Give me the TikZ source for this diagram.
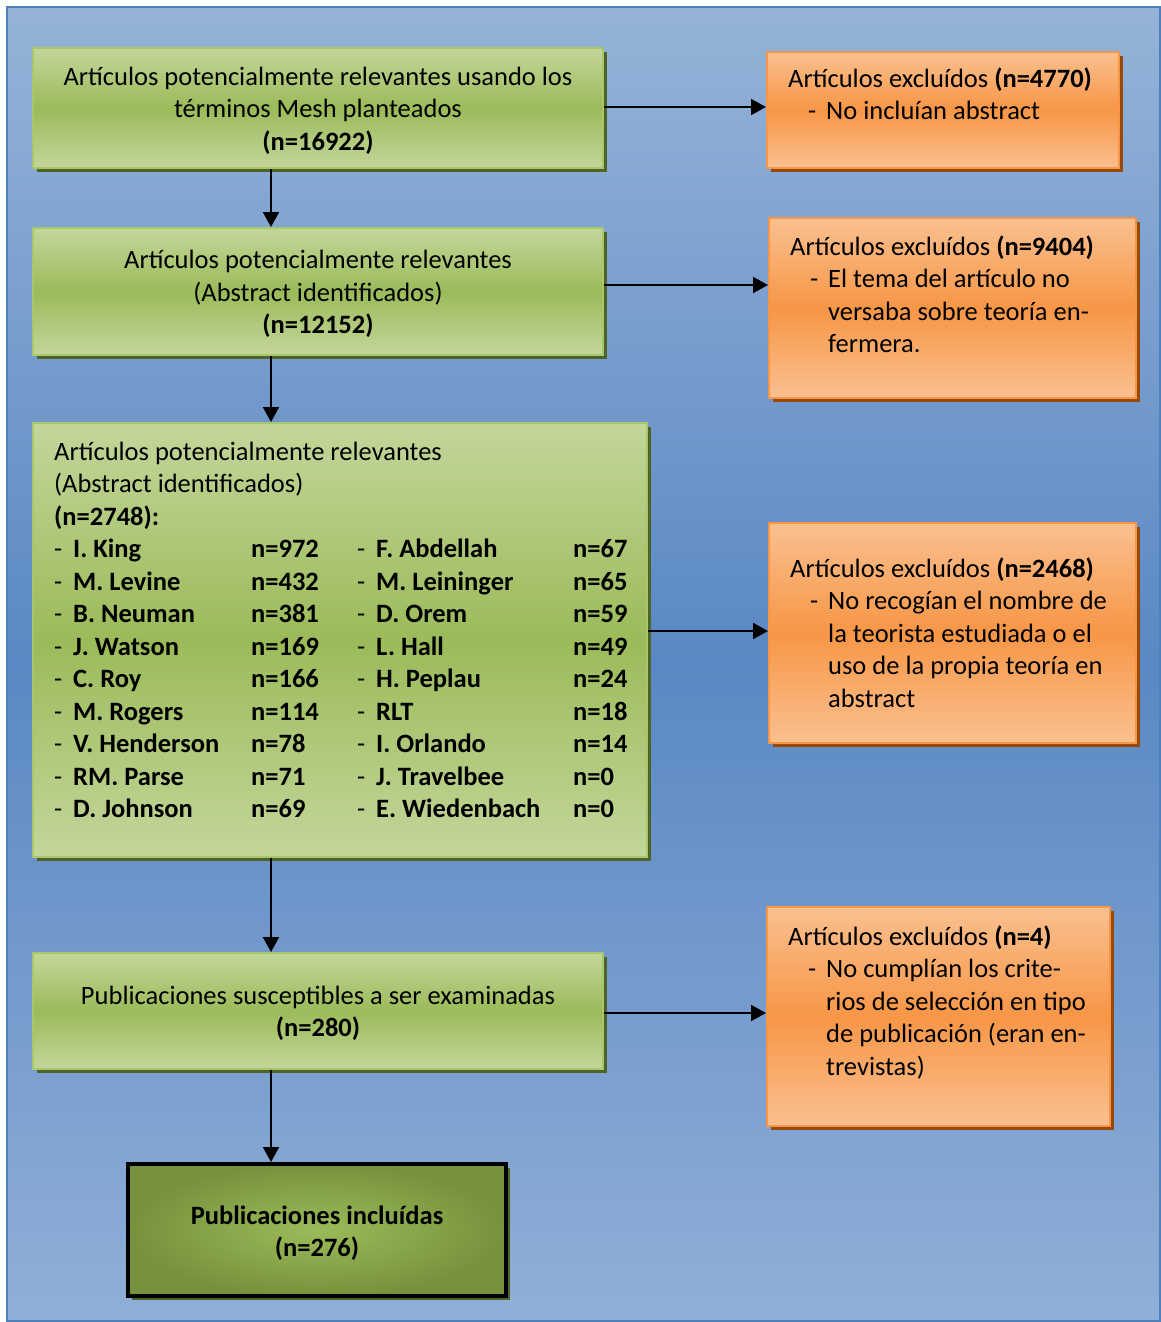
\documentclass[tikz,border=0pt]{standalone}
\usepackage{fontspec}
\setmainfont{Carlito}
\usetikzlibrary{arrows.meta,shadows}
\definecolor{bgtop}{HTML}{95B3D7}
\definecolor{bgmid}{HTML}{5A88C4}
\definecolor{bgbot}{HTML}{90AFD6}
\definecolor{bgline}{HTML}{4F81BD}
\definecolor{grlight}{HTML}{C3D69B}
\definecolor{grmid}{HTML}{9BBB59}
\definecolor{grborder}{HTML}{A9C76A}
\definecolor{grshadow}{HTML}{4F6228}
\definecolor{orlight}{HTML}{FAC090}
\definecolor{ormid}{HTML}{F79646}
\definecolor{orshadow}{HTML}{984807}
\definecolor{gfin}{HTML}{9BBB59}
\definecolor{gfout}{HTML}{76923C}
\newcommand\fs{\fontsize{26.5}{32.5}\selectfont}
\newcommand\lrow[4]{\makebox[19pt][l]{-}\makebox[178pt][l]{\textbf{#1}}\makebox[106pt][l]{\textbf{#2}}\makebox[19pt][l]{-}\makebox[197pt][l]{\textbf{#3}}\textbf{#4}}
\newcommand\ditem{\makebox[20pt]{}\makebox[18pt][l]{-}}
\newcommand\dcont{\makebox[38pt]{}}
\tikzset{
  gbox/.style={draw=grborder, line width=2pt, top color=grlight, bottom color=grlight, middle color=grmid,
    inner sep=0pt,
    drop shadow={shadow xshift=4pt, shadow yshift=-4pt, fill=grshadow, opacity=1}},
  obox/.style={draw=ormid, line width=2pt, top color=orlight, bottom color=orlight, middle color=ormid,
    inner sep=0pt,
    drop shadow={shadow xshift=4pt, shadow yshift=-4pt, fill=orshadow, opacity=1}},
  fbox/.style={draw=black, line width=4pt, inner color=gfin, outer color=gfout,
    inner sep=0pt,
    drop shadow={shadow xshift=4pt, shadow yshift=-4pt, fill=grshadow, opacity=1}},
  ctxt/.style={inner sep=0pt, align=center, font=\fs},
  txt/.style={inner sep=0pt, anchor=north west, align=left, font=\fs},
  arr/.style={line width=2pt, -{Triangle[length=15pt,width=16pt]}}
}
\begin{document}
\begin{tikzpicture}[x=1pt,y=-1pt]
\useasboundingbox (0,0) rectangle (1161,1322);
\path[top color=bgtop, bottom color=bgbot, middle color=bgmid] (7,7) rectangle (1160,1321);
\draw[bgline, line width=1.5pt] (7,7) rectangle (1160,1321);

% green boxes
\node[gbox, minimum width=570pt, minimum height=120pt] (b1) at (318,108) {};
\node[ctxt] (t1) at ([yshift=-2.5pt]b1.center)
  {Artículos potencialmente relevantes usando los\\términos Mesh planteados\\\textbf{(n=16922)}};
\node[gbox, minimum width=570pt, minimum height=127pt] (b2) at (318,291.5) {};
\node[ctxt] (t2) at ([yshift=-2.5pt]b2.center)
  {Artículos potencialmente relevantes\\(Abstract identificados)\\\textbf{(n=12152)}};
\node[gbox, minimum width=614pt, minimum height=434pt] (b3) at (340,640) {};
\node[txt] (t3) at (54,437.5) {\strut Artículos potencialmente relevantes\\(Abstract identificados)\\\textbf{(n=2748):}\\
  \lrow{I. King}{n=972}{F. Abdellah}{n=67}\\
  \lrow{M. Levine}{n=432}{M. Leininger}{n=65}\\
  \lrow{B. Neuman}{n=381}{D. Orem}{n=59}\\
  \lrow{J. Watson}{n=169}{L. Hall}{n=49}\\
  \lrow{C. Roy}{n=166}{H. Peplau}{n=24}\\
  \lrow{M. Rogers}{n=114}{RLT}{n=18}\\
  \lrow{V. Henderson}{n=78}{I. Orlando}{n=14}\\
  \lrow{RM. Parse}{n=71}{J. Travelbee}{n=0}\\
  \lrow{D. Johnson}{n=69}{E. Wiedenbach}{n=0}};
\node[gbox, minimum width=570pt, minimum height=116pt] (b4) at (318,1011) {};
\node[ctxt] (t4) at ([yshift=-2.5pt]b4.center)
  {Publicaciones susceptibles a ser examinadas\\\textbf{(n=280)}};
\node[fbox, minimum width=378pt, minimum height=132pt] (b5) at (317,1230) {};
\node[ctxt, font=\fs\bfseries] (t5) at ([yshift=-3pt]b5.center)
  {Publicaciones incluídas\\(n=276)};

% orange boxes
\node[obox, minimum width=352pt, minimum height=116pt] (e1) at (943,110) {};
\node[txt] (te1) at (788,64.5) {\strut Artículos excluídos \textbf{(n=4770)}\\\ditem No incluían abstract};
\node[obox, minimum width=367pt, minimum height=180pt] (e2) at (952.5,308) {};
\node[txt] (te2) at (790,232.5) {\strut Artículos excluídos \textbf{(n=9404)}\\\ditem El tema del artículo no\\\dcont versaba sobre teoría en-\\\dcont fermera.};
\node[obox, minimum width=367pt, minimum height=220pt] (e3) at (952.5,633) {};
\node[txt] (te3) at (790,554.5) {\strut Artículos excluídos \textbf{(n=2468)}\\\ditem No recogían el nombre de\\\dcont la teorista estudiada o el\\\dcont uso de la propia teoría en\\\dcont abstract};
\node[obox, minimum width=343pt, minimum height=219pt] (e4) at (938.5,1016.5) {};
\node[txt] (te4) at (788,922.5) {\strut Artículos excluídos \textbf{(n=4)}\\\ditem No cumplían los crite-\\\dcont rios de selección en tipo\\\dcont de publicación (eran en-\\\dcont trevistas)};

% connectors
\coordinate (ax) at (271,0);
\draw[arr] (b1.south -| ax) -- (b2.north -| ax);
\draw[arr] (b2.south -| ax) -- (b3.north -| ax);
\draw[arr] (b3.south -| ax) -- (b4.north -| ax);
\draw[arr] (b4.south -| ax) -- (b5.north -| ax);
\coordinate (h1) at ([yshift=1pt]b1.east);
\draw[arr] (h1) -- (h1 -| e1.west);
\coordinate (h2) at ([yshift=6.5pt]b2.east);
\draw[arr] (h2) -- (h2 -| e2.west);
\coordinate (h3) at ([yshift=9pt]b3.east);
\draw[arr] (h3) -- (h3 -| e3.west);
\coordinate (h4) at ([yshift=-2pt]b4.east);
\draw[arr] (h4) -- (h4 -| e4.west);
\end{tikzpicture}
\end{document}
